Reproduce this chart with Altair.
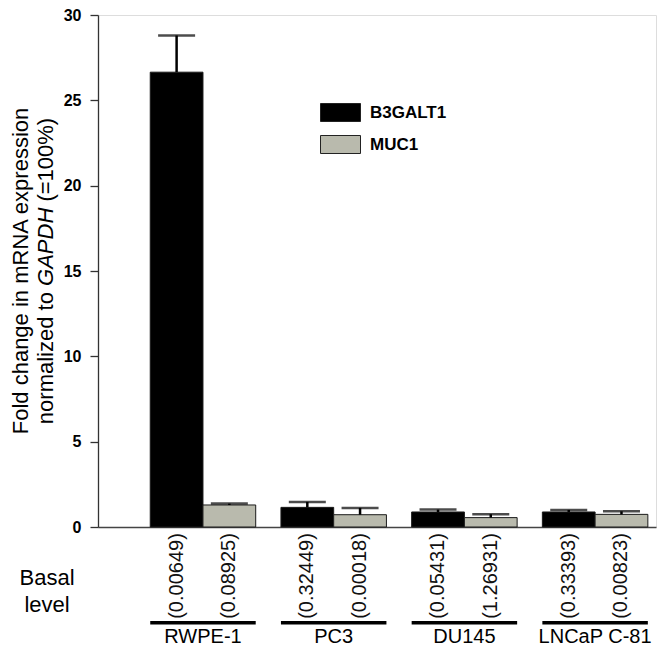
import altair as alt
import pandas as pd

# ---------------- data ----------------
groups = ["RWPE-1", "PC3", "DU145", "LNCaP C-81"]
genes = ["B3GALT1", "MUC1"]
b3galt1_mean = [26.65, 1.15, 0.88, 0.88]
b3galt1_err = [2.15, 0.32, 0.14, 0.12]
muc1_mean = [1.29, 0.72, 0.55, 0.74]
muc1_err = [0.08, 0.40, 0.20, 0.18]
b3galt1_basal = ["(0.00649)", "(0.32449)", "(0.05431)", "(0.33393)"]
muc1_basal = ["(0.08925)", "(0.00018)", "(1.26931)", "(0.00823)"]
y_ticks = [0, 5, 10, 15, 20, 25, 30]
y_title_1 = "Fold change in mRNA expression"
y_title_2 = ["normalized to", "GAPDH", "(=100%)"]
basal_label = ["Basal", "level"]

rows = []
for i, g in enumerate(groups):
    rows.append(dict(group=g, gene=genes[0], value=b3galt1_mean[i],
                     top=b3galt1_mean[i] + b3galt1_err[i], basal=b3galt1_basal[i]))
    rows.append(dict(group=g, gene=genes[1], value=muc1_mean[i],
                     top=muc1_mean[i] + muc1_err[i], basal=muc1_basal[i]))
df = pd.DataFrame(rows)
gdf = pd.DataFrame({"group": groups})
one = pd.DataFrame({"k": [0]})

# ---------------- style ----------------
FONT = "Liberation Sans"
W, H = 558, 512
GRAY = "#b9baad"

x_enc = alt.X("group:N", sort=groups,
              scale=alt.Scale(paddingInner=0.193, paddingOuter=0.231, align=0.865),
              axis=alt.Axis(title=None, labels=False, ticks=False,
                            domainColor="#444", domainWidth=1.5))
xo_enc = alt.XOffset("gene:N", sort=genes,
                     scale=alt.Scale(paddingInner=0, paddingOuter=0))
y_enc = alt.Y("value:Q",
              scale=alt.Scale(domain=[0, 30], nice=False, zero=True),
              axis=alt.Axis(title=None, values=y_ticks, tickSize=8, labelPadding=9,
                            labelFontSize=16, labelFontWeight="bold", labelFont=FONT,
                            labelColor="#000", domainColor="#333", tickColor="#333",
                            domainWidth=1.3, tickWidth=1.3, grid=False))

base = alt.Chart(df)

bars = base.mark_bar(stroke="#1a1a1a", strokeWidth=1).encode(
    x=x_enc, xOffset=xo_enc, y=y_enc,
    color=alt.Color("gene:N", sort=genes,
                    scale=alt.Scale(domain=genes, range=["#000000", GRAY]),
                    legend=alt.Legend(orient="none", legendX=222, legendY=77, title=None,
                                      symbolType="M-1,-0.45H1V0.45H-1Z", symbolSize=1600,
                                      symbolStrokeColor="#222", symbolStrokeWidth=1,
                                      symbolOpacity=1, labelFontSize=17,
                                      labelFontWeight="bold", labelFont=FONT,
                                      labelColor="#000", labelOffset=9, rowPadding=-2,
                                      padding=0)),
)

err_rule = base.mark_rule(color="black", strokeWidth=2.5).encode(
    x=x_enc, xOffset=xo_enc, y="value:Q", y2="top:Q")
err_cap = base.mark_tick(color="black", thickness=2.5, size=37, orient="horizontal").encode(
    x=x_enc, xOffset=xo_enc, y="top:Q")

basal_txt = base.mark_text(angle=270, fontSize=20, font=FONT, align="center",
                           baseline="middle", color="#111").encode(
    x=x_enc, xOffset=xo_enc, y=alt.value(561), text="basal:N")

underline = alt.Chart(gdf).mark_bar(color="black").encode(
    x=x_enc, y=alt.value(606), y2=alt.value(609.5))

group_txt = alt.Chart(gdf).mark_text(fontSize=20, font=FONT, align="center",
                                     baseline="alphabetic", color="#000").encode(
    x=x_enc, y=alt.value(628), text="group:N")

basal_lbl = alt.Chart(one).mark_text(text=basal_label, lineHeight=27, fontSize=22,
                                     font=FONT, align="center", baseline="middle",
                                     color="#000").encode(
    x=alt.value(-51), y=alt.value(563))

# y-axis title built from text pieces (GAPDH in italics)
fs = 22
cy = H / 2
yt1 = alt.Chart(one).mark_text(text=y_title_1, angle=270, fontSize=fs, font=FONT,
                               align="center", baseline="alphabetic", color="#000").encode(
    x=alt.value(-70), y=alt.value(cy))
w_norm = 6.280 * fs      # "normalized to "
w_gapdh = 3.834 * fs     # "GAPDH "
w_total = 13.921 * fs
y_start = cy + w_total / 2
yt2a = alt.Chart(one).mark_text(text=y_title_2[0], angle=270, fontSize=fs, font=FONT,
                                align="left", baseline="alphabetic", color="#000").encode(
    x=alt.value(-45), y=alt.value(y_start))
yt2b = alt.Chart(one).mark_text(text=y_title_2[1], angle=270, fontSize=fs, font=FONT,
                                fontStyle="italic", align="left", baseline="alphabetic",
                                color="#000").encode(
    x=alt.value(-45), y=alt.value(y_start - w_norm))
yt2c = alt.Chart(one).mark_text(text=y_title_2[2], angle=270, fontSize=fs, font=FONT,
                                align="left", baseline="alphabetic", color="#000").encode(
    x=alt.value(-45), y=alt.value(y_start - w_norm - w_gapdh))

chart = alt.layer(
    bars, err_rule, err_cap, basal_txt, underline, group_txt, basal_lbl,
    yt1, yt2a, yt2b, yt2c
).properties(
    width=W, height=H,
    padding={"left": 90, "top": 7, "right": 2, "bottom": 121},
    autosize=alt.AutoSizeParams(type="none"),
).configure_view(stroke=None).configure(background="white")

chart.save("out.html", embed_options={"renderer": "svg", "actions": False})
